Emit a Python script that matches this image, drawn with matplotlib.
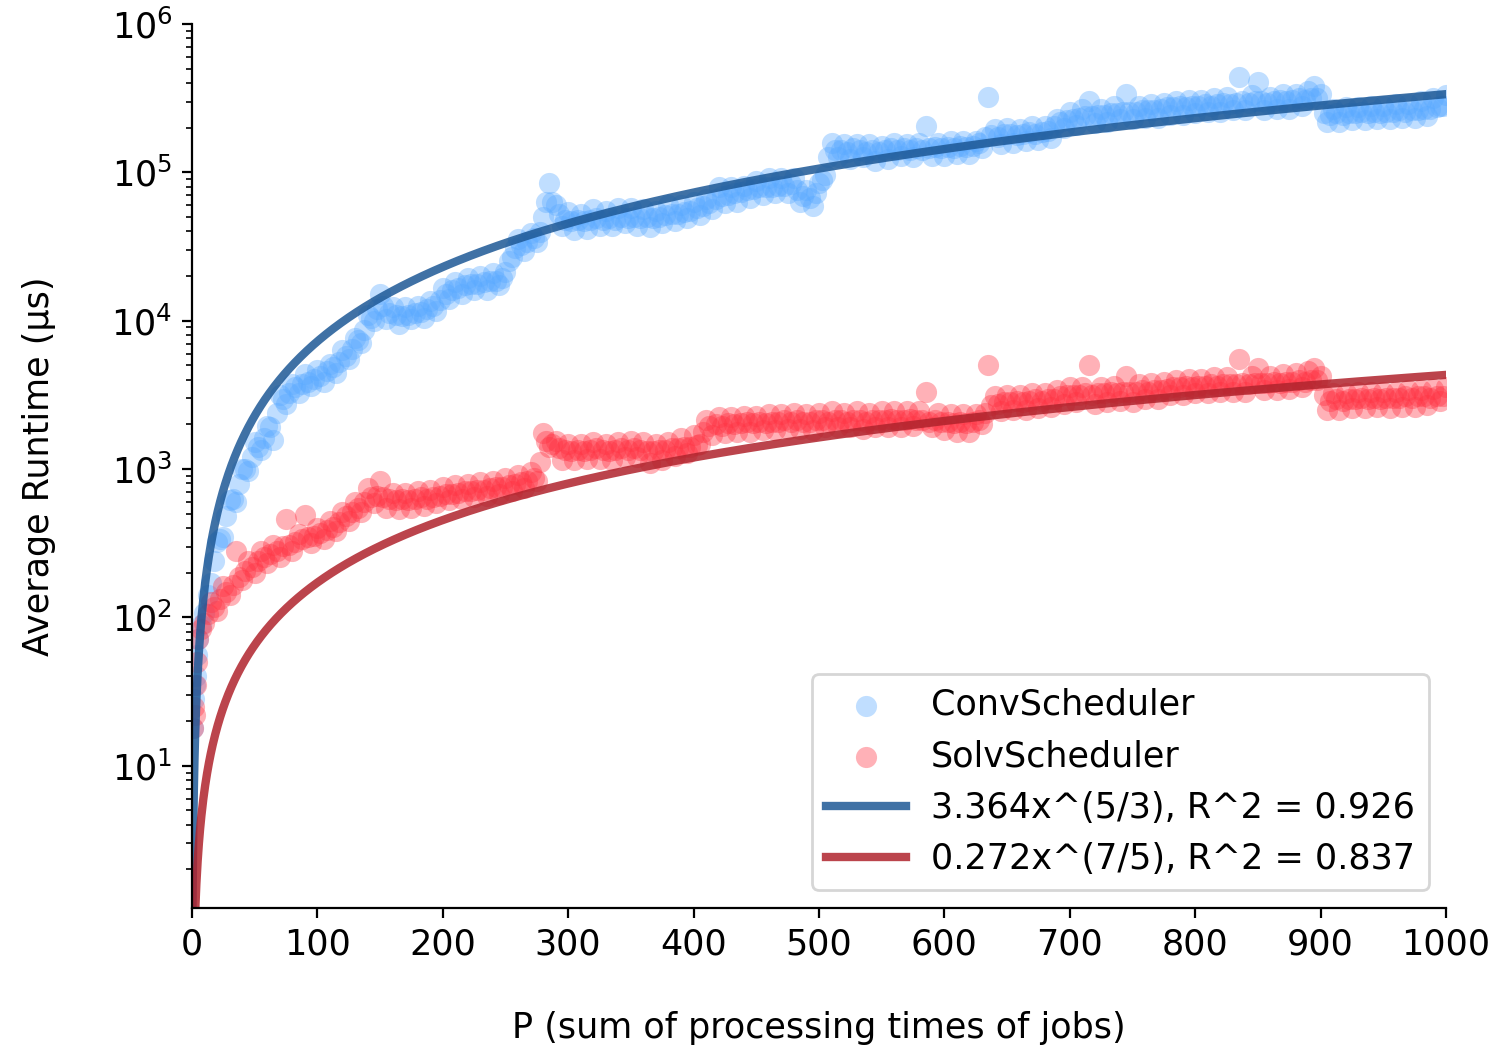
import matplotlib
matplotlib.use("Agg")
import matplotlib.pyplot as plt
import numpy as np

# P values (sum of processing times of jobs)
p_values = [1, 2, 3, 4] + list(range(5, 1001, 5))
p_mid = [v + 2.5 for v in range(0, 1000, 5)]

# average runtime (µs); *_runtime at p_values,
# *_mid at the in-between P values (p_mid)
conv_runtime = [
    18, 28, 40, 56, 71,
    107, 170, 324, 347, 617, 603, 1000, 977, 1510, 1350,
    1950, 1580, 3160, 2750, 3720, 3240, 4370, 3630, 4680, 3890,
    5130, 4470, 6310, 5500, 7590, 7080, 11000, 10000, 15100, 10200,
    12300, 9550, 12300, 10200, 12600, 10500, 13500, 11700, 16600, 14100,
    18200, 15100, 19500, 16200, 20000, 16200, 20900, 17400, 21400, 26900,
    35500, 29500, 38900, 33900, 50100, 85100, 60300, 43700, 53700, 40700,
    52500, 41700, 56200, 43700, 55000, 43700, 57500, 45700, 57500, 43700,
    56200, 42700, 55000, 45700, 60300, 46800, 60300, 49000, 63100, 51300,
    66100, 56200, 79400, 61700, 79400, 63100, 81300, 67600, 87100, 70800,
    91200, 72400, 91200, 72400, 91200, 63100, 75900, 58900, 85100, 95500,
    158000, 126000, 155000, 123000, 155000, 126000, 155000, 120000, 151000, 123000,
    158000, 129000, 155000, 126000, 158000, 204000, 129000, 158000, 129000, 162000,
    132000, 162000, 132000, 162000, 145000, 324000, 195000, 155000, 200000, 158000,
    195000, 162000, 204000, 166000, 204000, 170000, 229000, 200000, 257000, 209000,
    269000, 302000, 214000, 269000, 219000, 282000, 229000, 339000, 229000, 282000,
    234000, 288000, 234000, 295000, 245000, 302000, 245000, 309000, 251000, 309000,
    257000, 316000, 257000, 324000, 263000, 437000, 263000, 331000, 407000, 263000,
    324000, 269000, 339000, 269000, 339000, 282000, 355000, 380000, 339000, 219000,
    269000, 219000, 275000, 224000, 275000, 224000, 282000, 229000, 282000, 229000,
    288000, 234000, 288000, 234000, 302000, 240000, 316000, 282000, 331000,
]
conv_mid = [
    35, 89, 141, 240, 339, 479, 631, 794, 1000, 1200,
    1410, 1620, 1910, 2400, 2950, 3240, 3550, 3720, 3890, 4070,
    4270, 4570, 4900, 5250, 5750, 6460, 7410, 8710, 10500, 12000,
    12600, 11200, 11000, 10700, 11000, 11200, 11500, 12000, 12600, 13800,
    15100, 16200, 16600, 17400, 17800, 17800, 18200, 18600, 18600, 19500,
    25100, 30900, 32400, 33900, 36300, 39800, 63100, 63100, 52500, 47900,
    46800, 47900, 46800, 47900, 49000, 47900, 49000, 48000, 50100, 49000,
    50100, 49000, 50100, 49000, 50100, 51300, 52500, 52500, 53700, 55000,
    57500, 58900, 61700, 66100, 69200, 70800, 72400, 74100, 75900, 77600,
    79400, 79400, 79400, 81300, 81300, 83200, 75900, 69200, 67600, 72400,
    89100, 126000, 141000, 141000, 138000, 145000, 141000, 138000, 141000, 138000,
    141000, 145000, 141000, 145000, 141000, 145000, 141000, 145000, 148000, 145000,
    148000, 145000, 151000, 148000, 151000, 158000, 174000, 178000, 174000, 182000,
    182000, 178000, 182000, 186000, 182000, 186000, 191000, 204000, 219000, 224000,
    229000, 234000, 240000, 240000, 245000, 245000, 251000, 251000, 257000, 257000,
    257000, 263000, 263000, 263000, 269000, 275000, 275000, 282000, 275000, 282000,
    282000, 288000, 282000, 288000, 295000, 288000, 295000, 302000, 295000, 302000,
    302000, 295000, 302000, 309000, 302000, 309000, 316000, 309000, 316000, 316000,
    251000, 245000, 251000, 245000, 251000, 251000, 257000, 251000, 257000, 251000,
    257000, 257000, 263000, 257000, 263000, 263000, 269000, 269000, 275000, 282000,
]
solv_runtime = [
    18, 25, 35, 50, 71,
    91, 126, 110, 162, 141, 282, 178, 240, 200, 282,
    234, 309, 257, 457, 282, 363, 490, 316, 398, 339,
    447, 380, 513, 447, 603, 513, 741, 589, 832, 550,
    692, 537, 692, 550, 708, 562, 724, 589, 759, 617,
    776, 631, 794, 646, 813, 661, 832, 676, 871, 708,
    912, 741, 955, 832, 1740, 1410, 1550, 1150, 1480, 1150,
    1480, 1170, 1510, 1170, 1480, 1150, 1510, 1200, 1550, 1200,
    1510, 1100, 1480, 1150, 1510, 1230, 1620, 1290, 1700, 1480,
    2140, 1700, 2240, 1740, 2240, 1780, 2290, 1780, 2290, 1820,
    2340, 1820, 2340, 1860, 2400, 1860, 2340, 1820, 2400, 1910,
    2450, 1910, 2400, 1910, 2450, 1860, 2400, 1910, 2450, 1910,
    2450, 1910, 2450, 1950, 2450, 3310, 1910, 2400, 1820, 2340,
    1780, 2340, 1780, 2340, 2000, 5010, 3090, 2450, 3160, 2510,
    3160, 2510, 3240, 2570, 3240, 2630, 3390, 2750, 3550, 2820,
    3550, 5010, 2750, 3550, 2820, 3630, 2880, 4270, 2820, 3720,
    2950, 3800, 2950, 3890, 3160, 3980, 3160, 4070, 3240, 4070,
    3240, 4170, 3310, 4170, 3310, 5500, 3310, 4270, 4790, 3390,
    4270, 3390, 4370, 3470, 4470, 3550, 4570, 4790, 4270, 2510,
    3240, 2510, 3240, 2570, 3310, 2570, 3310, 2630, 3310, 2570,
    3310, 2630, 3390, 2630, 3390, 2690, 3470, 2880, 3550,
]
solv_mid = [
    22, 83, 105, 117, 132, 148, 166, 186, 204, 219,
    240, 257, 269, 282, 302, 309, 324, 339, 347, 355,
    372, 389, 407, 437, 479, 513, 550, 603, 646, 661,
    646, 631, 617, 631, 617, 631, 646, 631, 646, 661,
    676, 676, 692, 708, 708, 724, 724, 741, 759, 759,
    776, 794, 813, 832, 871, 1120, 1550, 1480, 1380, 1350,
    1320, 1350, 1320, 1350, 1380, 1350, 1320, 1350, 1380, 1350,
    1380, 1350, 1320, 1320, 1350, 1350, 1380, 1380, 1410, 1410,
    1450, 1780, 1950, 2000, 1950, 2040, 2000, 2040, 2090, 2040,
    2090, 2040, 2090, 2090, 2140, 2090, 2140, 2090, 2090, 2140,
    2140, 2090, 2140, 2140, 2090, 2140, 2140, 2090, 2140, 2140,
    2140, 2190, 2140, 2140, 2190, 2140, 2140, 2090, 2140, 2090,
    2090, 2040, 2090, 2040, 2090, 2140, 2400, 2690, 2750, 2820,
    2820, 2880, 2820, 2880, 2950, 2880, 2950, 2950, 3090, 3160,
    3160, 3160, 3240, 3160, 3240, 3240, 3310, 3240, 3310, 3310,
    3310, 3390, 3310, 3390, 3390, 3470, 3550, 3550, 3630, 3550,
    3630, 3630, 3720, 3630, 3720, 3720, 3720, 3800, 3720, 3800,
    3800, 3800, 3890, 3800, 3890, 3890, 3980, 3890, 3980, 3980,
    3160, 2880, 2950, 2880, 2950, 2950, 3020, 2950, 3020, 2950,
    3020, 3020, 3020, 3090, 3020, 3090, 3090, 3020, 3090, 3090,
]

# power-law fits as given in the legend
conv_coef, conv_exp = 3.364, 5 / 3
solv_coef, solv_exp = 0.272, 7 / 5
conv_label = "3.364x^(5/3), R^2 = 0.926"
solv_label = "0.272x^(7/5), R^2 = 0.837"

FS = 12.6

fig = plt.figure(figsize=(7.48, 5.255), dpi=200)
ax = fig.add_axes([0.1283, 0.1361, 0.8383, 0.8411])

sc1 = ax.scatter(p_values + p_mid, conv_runtime + conv_mid, s=58,
                 color="#5aaaff", alpha=0.38, linewidths=0,
                 label="ConvScheduler")
sc2 = ax.scatter(p_values + p_mid, solv_runtime + solv_mid, s=58,
                 color="#ff3444", alpha=0.38, linewidths=0,
                 label="SolvScheduler")

x_fit = np.linspace(0.05, 1000, 2000)
ln1, = ax.plot(x_fit, conv_coef * x_fit ** conv_exp, color="#1d5896", lw=3,
               alpha=0.85, label=conv_label)
ln2, = ax.plot(x_fit, solv_coef * x_fit ** solv_exp, color="#b0232c", lw=3,
               alpha=0.85, label=solv_label)

ax.set_yscale("log")
ax.set_xlim(0, 1000)
ax.set_ylim(1.1, 1e6)
ax.set_xticks(range(0, 1001, 100))
ax.tick_params(labelsize=FS)
ax.spines["top"].set_visible(False)
ax.spines["right"].set_visible(False)

ax.set_xlabel("P (sum of processing times of jobs)", fontsize=FS, labelpad=18)
ax.set_ylabel("Average Runtime (µs)", fontsize=FS, labelpad=20)

ax.legend(handles=[sc1, sc2, ln1, ln2], loc="lower right", fontsize=FS,
          handlelength=2.3, handletextpad=0.7)

fig.savefig("out.png", dpi=200)
